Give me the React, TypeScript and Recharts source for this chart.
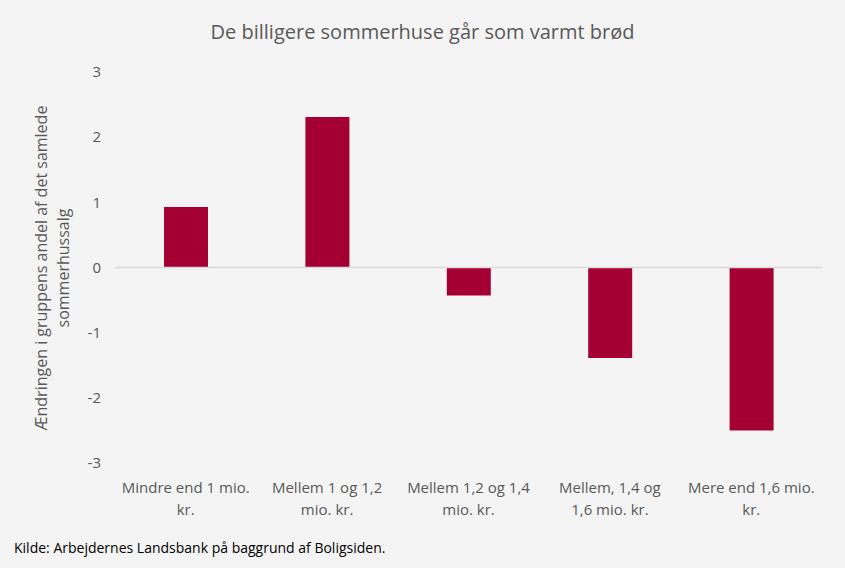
import { Bar, BarChart, ReferenceLine, XAxis, YAxis } from "recharts"

const categories = [
  "Mindre end 1 mio.\nkr.",
  "Mellem 1 og 1,2\nmio. kr.",
  "Mellem 1,2 og 1,4\nmio. kr.",
  "Mellem, 1,4 og\n1,6 mio. kr.",
  "Mere end 1,6 mio.\nkr.",
]
const values = [0.93, 2.31, -0.43, -1.39, -2.5]
const yTicks = [-3, -2, -1, 0, 1, 2, 3]

const data = categories.map((name, i) => ({ name, value: values[i] }))

const FONT = "'Open Sans', 'Liberation Sans', sans-serif"
const TEXT = "#595959"

function MultiTick({ x, y, payload }: any) {
  const lines = String(payload.value).split("\n")
  return (
    <text x={x} y={y} textAnchor="middle" fill={TEXT} fontSize={15} fontFamily={FONT}>
      {lines.map((l, i) => (
        <tspan key={i} x={x} dy={i === 0 ? 22 : 22}>
          {l}
        </tspan>
      ))}
    </text>
  )
}

export default function App() {
  return (
    <div style={{ position: "absolute", left: 0, top: 0, width: 845, height: 568, background: "#f4f4f4", fontFamily: FONT }}>
      <div style={{ position: "absolute", top: 18, width: 845, textAlign: "center", fontSize: 20, color: TEXT }}>
        De billigere sommerhuse går som varmt brød
      </div>
      <svg style={{ position: "absolute", left: 0, top: 0 }} width={100} height={568}>
        <text transform="translate(47,268) rotate(-90)" textAnchor="middle" fill={TEXT} fontSize={16} fontFamily={FONT}>
          <tspan x={0} dy={0}>Ændringen i gruppens andel af det samlede</tspan>
          <tspan x={0} dy={22}>sommerhussalg</tspan>
        </text>
      </svg>
      <BarChart
        width={845}
        height={568}
        data={data}
        margin={{ top: 72, right: 23, bottom: 75, left: 0 }}
        barSize={44}
        style={{ position: "absolute", left: 0, top: 0 }}
      >
        <XAxis dataKey="name" axisLine={false} tickLine={false} tick={<MultiTick />} interval={0} height={30} />
        <YAxis
          domain={[-3, 3]}
          ticks={yTicks}
          width={115}
          axisLine={false}
          tickLine={false}
          tick={{ fill: TEXT, fontSize: 15, fontFamily: FONT }}
          tickMargin={8}
        />
        <ReferenceLine y={0} stroke="#d9d9d9" strokeWidth={1.5} />
        <Bar dataKey="value" fill="#a50034" isAnimationActive={false} />
      </BarChart>
      <div style={{ position: "absolute", left: 14, top: 538, fontSize: 14, color: "#000" }}>
        Kilde: Arbejdernes Landsbank på baggrund af Boligsiden.
      </div>
    </div>
  )
}
